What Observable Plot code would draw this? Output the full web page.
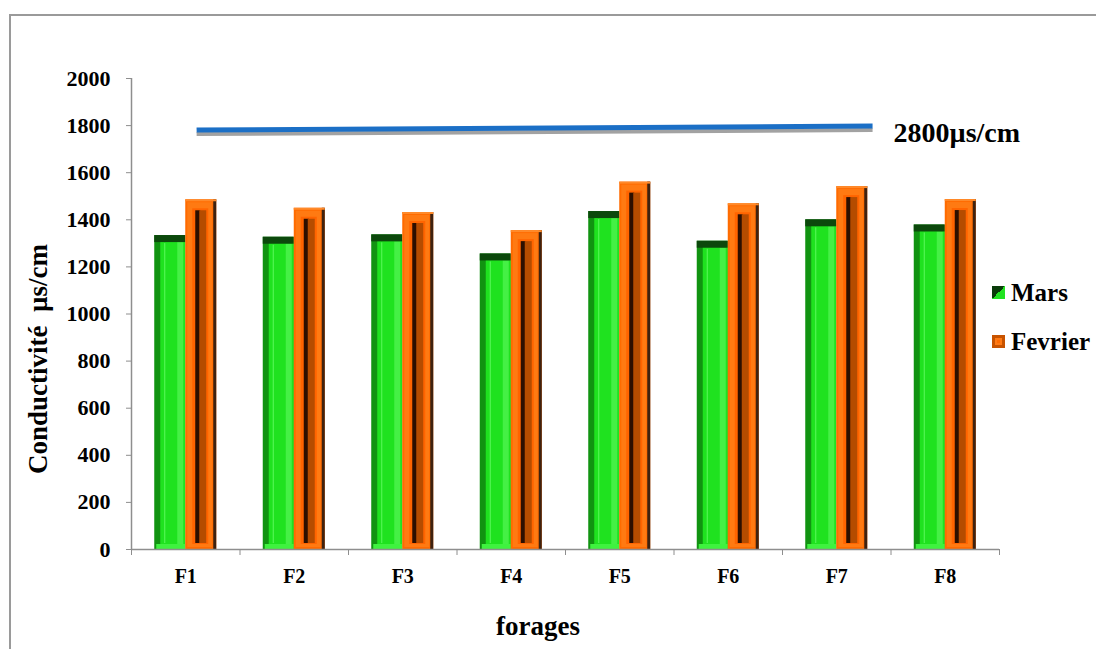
<!DOCTYPE html>
<html>
<head>
<meta charset="utf-8">
<script src="https://cdn.jsdelivr.net/npm/d3@7"></script>
<script src="https://cdn.jsdelivr.net/npm/@observablehq/plot@0.6"></script>
<style>
  html, body { margin: 0; padding: 0; background: #fff; }
  #wrap { position: relative; width: 1096px; height: 649px; overflow: hidden;
          font-family: "Liberation Serif", "Times New Roman", "DejaVu Serif", serif; font-weight: bold; color: #000; }
  #border { position: absolute; left: 9px; top: 14px; width: 1200px; height: 800px;
            border-top: 2px solid #9a9a9a; border-left: 2px solid #9a9a9a; }
  #chart { position: absolute; left: 0; top: 0; }
  #chart text { font-family: "Liberation Serif", "Times New Roman", "DejaVu Serif", serif; }
  .ytitle { position: absolute; left: 38px; top: 359px; transform: translate(-50%, -50%) rotate(-90deg);
            font-size: 27px; white-space: pre; }
  .xtitle { position: absolute; left: 538px; top: 626px; transform: translate(-50%, -50%); font-size: 27px; }
  .legend { position: absolute; left: 992px; top: 268px; font-size: 25px; }
  .legend .item { display: flex; align-items: center; height: 49px; font-family: "Liberation Serif", "Times New Roman", serif; }
  .legend .sw { width: 13px; height: 13px; margin-right: 6px; box-sizing: border-box; }
  .sw.mars { background: linear-gradient(135deg, #0a3c0a 0 50%, #22e322 50% 100%); }
  .sw.fev { background: #ff6b00; border: 3px solid #c85300; box-shadow: inset 0 0 0 2px #ff7a14; }
</style>
</head>
<body>
<div id="wrap">
  <div id="border"></div>
  <div id="chart"></div>
  <div class="ytitle">Conductivité  µs/cm</div>
  <div class="xtitle">forages</div>
  <div class="legend" id="legend"></div>
</div>
<script>
// Boreholes and their conductivity readings (µs/cm)
const forages = ["F1", "F2", "F3", "F4", "F5", "F6", "F7", "F8"];
const mars    = [1333, 1326, 1336, 1255, 1435, 1309, 1400, 1378];
const fevrier = [1485, 1449, 1431, 1354, 1560, 1468, 1541, 1486];
const series  = ["Mars", "Fevrier"];
const yTicks  = [0, 200, 400, 600, 800, 1000, 1200, 1400, 1600, 1800, 2000];

// Reference (norm) line: start/end positions along the borehole axis and its values
const normeLabel = "2800µs/cm";
const normeX = [1.1, 7.33];
const normeY = [1781, 1798];

const serif = "'Liberation Serif', 'Times New Roman', 'DejaVu Serif', serif";
const rows = forages.map((f, i) => ({forage: f, pos: i + 1, mars: mars[i], fevrier: fevrier[i]}));
const norme = normeX.map((x, i) => ({x, y: normeY[i]}));
const boundaries = d3.range(0.5, forages.length + 1, 1);

const half = 0.2857; // width of one bar, in borehole-slot units
const gray = "#8e8e8e";

// One bevel layer of a bar: same bar geometry, different fill and insets
const marsLayer = (opts) => Plot.rectY(rows, {x1: d => d.pos - half, x2: d => d.pos, y1: 0, y2: "mars", ...opts});
const fevLayer = (opts) => Plot.rectY(rows, {x1: d => d.pos, x2: d => d.pos + half, y1: 0, y2: "fevrier", ...opts});
const marsCap = (opts) => Plot.rectY(rows, {x1: d => d.pos - half, x2: d => d.pos, y1: "mars", y2: "mars", ...opts});
const marsBase = (opts) => Plot.rectY(rows, {x1: d => d.pos - half, x2: d => d.pos, y1: 0, y2: 0, ...opts});
const fevCap = (opts) => Plot.rectY(rows, {x1: d => d.pos, x2: d => d.pos + half, y1: "fevrier", y2: "fevrier", ...opts});

const chart = Plot.plot({
  width: 1096,
  height: 649,
  marginLeft: 131,
  marginRight: 97,
  marginTop: 78,
  marginBottom: 100,
  style: {fontFamily: serif, color: "#000", background: "transparent"},
  x: {domain: [0.5, forages.length + 0.5], axis: null},
  y: {domain: [0, 2000], axis: null},
  marks: [
    // Mars bars (green bevel)
    marsLayer({fill: "#119311"}),
    marsLayer({fill: "#1fe21f", insetLeft: 6, insetTop: 5}),
    marsLayer({fill: "#5cf95c", insetLeft: 10, insetRight: 20, insetTop: 8, insetBottom: 6}),
    marsLayer({fill: "#45f045", insetLeft: 23, insetRight: 2, insetTop: 7, insetBottom: 4}),
    marsBase({fill: "#3ff23f", insetTop: -5, insetLeft: 2}),
    marsCap({fill: "#0c480c", insetBottom: -7}),
    // Fevrier bars (orange bevel)
    fevLayer({fill: "#ff6b00"}),
    fevLayer({fill: "#ff7a12", insetLeft: 2, insetRight: 4, insetTop: 3, insetBottom: 2}),
    fevLayer({fill: "#ff6400", insetLeft: 7, insetRight: 8, insetTop: 9, insetBottom: 5}),
    fevLayer({fill: "#2c0f00", insetLeft: 10, insetRight: 16, insetTop: 11, insetBottom: 6}),
    fevLayer({fill: "#b54c00", insetLeft: 14, insetRight: 10, insetTop: 11, insetBottom: 6}),
    fevLayer({fill: "#3e2210", insetLeft: 28}),
    fevCap({fill: "#ff8a2a", insetBottom: -2}),
    // Axis lines and ticks
    Plot.ruleX([0.5], {y1: 0, y2: 2000, stroke: gray, strokeWidth: 1.5}),
    Plot.ruleY([0], {stroke: gray, strokeWidth: 1.5}),
    Plot.axisY({ticks: yTicks, tickSize: 5, tickPadding: 16, stroke: gray, fill: "#000", fontFamily: serif,
                fontSize: 22, fontWeight: "bold", tickFormat: d => String(d), label: null}),
    Plot.axisX({ticks: boundaries, tickSize: 6, stroke: gray, tickFormat: () => "", label: null}),
    Plot.axisX({ticks: rows.map(d => d.pos), tickSize: 0, tickPadding: 19, fill: "#000", fontFamily: serif,
                fontSize: 20, fontWeight: "bold", tickFormat: p => forages[p - 1], label: null}),
    // Norm line with its shadow and label
    Plot.line(norme, {x: "x", y: "y", stroke: "#a2a2a2", strokeWidth: 4, dy: 4, strokeLinecap: "butt"}),
    Plot.line(norme, {x: "x", y: "y", stroke: "#1b6fc6", strokeWidth: 5, strokeLinecap: "butt"}),
    Plot.text(norme.slice(-1), {x: "x", y: "y", text: () => normeLabel, textAnchor: "start", fontFamily: serif,
                dx: 21, dy: 7, fontSize: 28, fontWeight: "bold", fill: "#000"})
  ]
});
document.getElementById("chart").appendChild(chart);

// Legend
const legend = document.getElementById("legend");
const swatchClass = {Mars: "mars", Fevrier: "fev"};
for (const s of series) {
  const item = document.createElement("div");
  item.className = "item";
  item.innerHTML = `<div class="sw ${swatchClass[s]}"></div><span>${s}</span>`;
  legend.appendChild(item);
}
</script>
</body>
</html>
